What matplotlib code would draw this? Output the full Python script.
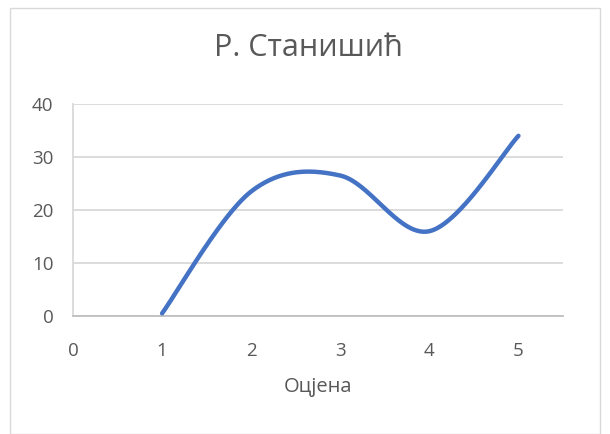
import matplotlib.pyplot as plt
from matplotlib.patches import Rectangle
import numpy as np

# values
ocjena = [1, 2, 3, 4, 5]
broj = [0.5, 23.5, 26.5, 16, 34]
x_ticks = [0, 1, 2, 3, 4, 5]
y_ticks = [0, 10, 20, 30, 40]

plt.rcParams['font.family'] = ['Open Sans', 'DejaVu Sans']


def excel_smooth(xs, ys, n=60):
    # bezier smoothing like Excel's "smoothed line"
    p = np.column_stack([xs, ys]).astype(float)
    pts = np.vstack([p[0], p, p[-1]])
    out = []
    t = np.linspace(0, 1, n)[:, None]
    for i in range(1, len(pts) - 2):
        p0, p1, p2, p3 = pts[i - 1], pts[i], pts[i + 1], pts[i + 2]
        c1 = p1 + (p2 - p0) / 6
        c2 = p2 - (p3 - p1) / 6
        seg = ((1 - t) ** 3) * p1 + 3 * ((1 - t) ** 2) * t * c1 + 3 * (1 - t) * t ** 2 * c2 + t ** 3 * p2
        out.append(seg)
    out = np.vstack(out)
    return out[:, 0], out[:, 1]


fig = plt.figure(figsize=(6.1, 4.34), dpi=100)
fig.patches.append(Rectangle((10 / 610, 0.0), 590 / 610, 1 - 8 / 434, transform=fig.transFigure,
                             fill=False, edgecolor='#d9d9d9', linewidth=1))
ax = fig.add_axes([73 / 610, 1 - 316 / 434, 490 / 610, 212 / 434])

sx, sy = excel_smooth(ocjena, broj)
ax.plot(sx, sy, color='#4472c4', linewidth=3.2, solid_capstyle='round', zorder=3)

ax.set_xlim(0, 5.5)
ax.set_ylim(0, 40)
ax.set_xticks(x_ticks)
ax.set_yticks(y_ticks)
ax.grid(axis='y', color='#d9d9d9', linewidth=1.3)
ax.set_axisbelow(True)
for s in ['top', 'right']:
    ax.spines[s].set_visible(False)
ax.spines['left'].set_color('#d9d9d9')
ax.spines['left'].set_linewidth(1.3)
ax.spines['bottom'].set_color('#bfbfbf')
ax.spines['bottom'].set_linewidth(1.3)
ax.tick_params(length=0, labelsize=13.5, colors='#595959')
ax.tick_params(axis='x', pad=19)
ax.tick_params(axis='y', pad=14)

ax.set_xlabel('Оцјена', fontsize=14.5, color='#595959', labelpad=12)
fig.text(308 / 610, 1 - 48 / 434, 'Р. Станишић', fontsize=22, color='#595959',
         ha='center', va='center')

fig.savefig('out.png', dpi=100)
